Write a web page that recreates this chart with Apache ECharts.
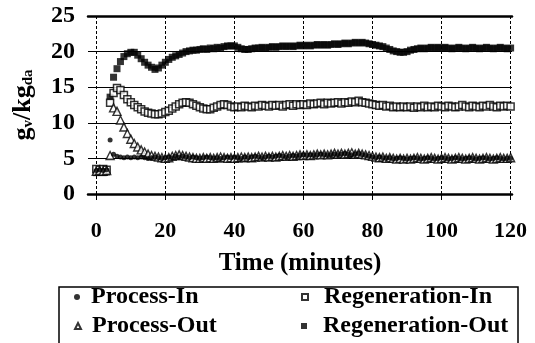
<!DOCTYPE html>
<html>
<head>
<meta charset="utf-8">
<script src="https://cdn.jsdelivr.net/npm/echarts@6/dist/echarts.min.js"></script>
<style>html,body{margin:0;padding:0;background:#fff}#c{width:535px;height:343px}</style>
</head>
<body>
<div id="c"></div>
<script>
var minutes = [0,1,2,3,4,5,6,7,8,9,10,11,12,13,14,15,16,17,18,19,20,21,22,23,24,25,26,27,28,29,30,31,32,33,34,35,36,37,38,39,40,41,42,43,44,45,46,47,48,49,50,51,52,53,54,55,56,57,58,59,60,61,62,63,64,65,66,67,68,69,70,71,72,73,74,75,76,77,78,79,80,81,82,83,84,85,86,87,88,89,90,91,92,93,94,95,96,97,98,99,100,101,102,103,104,105,106,107,108,109,110,111,112,113,114,115,116,117,118,119,120];

var processIn = [3.3,3.4,3.3,3.4,7.6,5.6,5.3,5.2,5.1,5.2,
5.1,5.2,5.1,5.2,5.1,5.0,5.1,5.2,5.1,5.0,
5.1,5.2,5.1,5.3,5.2,5.3,5.2,5.1,5.2,5.1,
5.0,5.1,5.2,5.1,5.0,5.1,5.0,5.1,5.2,5.1,
5.2,5.1,5.0,5.2,5.1,5.2,5.3,5.2,5.1,5.2,
5.3,5.2,5.3,5.4,5.3,5.2,5.3,5.4,5.3,5.4,
5.5,5.4,5.5,5.4,5.5,5.6,5.5,5.4,5.5,5.6,
5.5,5.6,5.7,5.6,5.5,5.6,5.7,5.5,5.4,5.3,
5.2,5.1,5.2,5.1,5.0,5.1,4.9,5.0,5.1,5.0,
4.9,5.0,5.1,5.0,4.9,5.0,5.1,5.0,4.9,5.0,
5.1,5.0,4.9,5.0,5.1,5.0,4.9,5.0,5.1,5.0,
4.9,5.0,5.1,5.0,4.9,5.0,5.1,5.0,4.9,5.0,5.0];

var processOut = [3.2,3.3,3.2,3.3,5.4,12.1,11.6,10.4,9.4,8.5,
7.7,7.1,6.6,6.2,5.9,5.6,5.4,5.3,5.2,5.1,
5.0,5.1,5.3,5.4,5.5,5.4,5.3,5.2,5.1,5.0,
5.0,5.1,5.0,5.1,5.0,5.1,5.2,5.1,5.0,5.1,
5.0,5.1,5.2,5.1,5.2,5.1,5.2,5.3,5.2,5.3,
5.2,5.3,5.2,5.3,5.4,5.3,5.4,5.3,5.4,5.5,
5.4,5.5,5.4,5.5,5.6,5.5,5.6,5.5,5.6,5.7,
5.6,5.7,5.6,5.7,5.8,5.6,5.7,5.6,5.5,5.4,
5.3,5.2,5.1,5.2,5.0,5.1,5.0,4.9,5.0,4.9,
5.0,4.9,5.0,5.1,5.0,4.9,5.0,5.1,5.0,4.9,
5.0,5.1,5.0,4.9,5.0,5.1,5.0,4.9,5.0,5.1,
5.0,4.9,5.0,5.1,5.0,4.9,5.0,5.1,5.0,5.0,5.1];

var regenIn = [3.5,3.4,3.5,3.4,12.8,14.2,14.9,14.6,13.9,13.3,
12.9,12.5,12.2,11.9,11.6,11.4,11.3,11.2,11.2,11.3,
11.5,11.7,12.0,12.3,12.6,12.8,12.9,12.8,12.6,12.4,
12.2,12.0,11.9,11.9,12.1,12.3,12.5,12.6,12.5,12.3,
12.2,12.3,12.2,12.4,12.3,12.2,12.4,12.3,12.5,12.4,
12.3,12.5,12.4,12.5,12.3,12.5,12.6,12.4,12.6,12.5,
12.6,12.5,12.7,12.6,12.7,12.8,12.6,12.8,12.7,12.8,
12.9,12.7,12.9,12.8,13.0,12.9,13.1,12.9,12.8,12.7,
12.6,12.5,12.4,12.5,12.3,12.4,12.2,12.3,12.2,12.3,
12.2,12.3,12.1,12.3,12.2,12.4,12.2,12.3,12.2,12.4,
12.3,12.2,12.4,12.3,12.2,12.3,12.5,12.3,12.2,12.4,
12.3,12.2,12.4,12.3,12.5,12.3,12.2,12.4,12.3,12.4,12.3];

var regenOut = [3.0,3.1,3.0,3.1,13.6,16.4,17.6,18.6,19.3,19.7,
19.9,19.9,19.5,19.0,18.5,18.1,17.8,17.5,17.7,18.1,
18.5,18.9,19.2,19.4,19.6,19.8,20.0,20.1,20.2,20.2,
20.3,20.4,20.3,20.5,20.4,20.6,20.5,20.7,20.8,20.8,
20.8,20.6,20.4,20.3,20.3,20.4,20.5,20.5,20.6,20.5,
20.6,20.7,20.6,20.7,20.8,20.7,20.8,20.7,20.8,20.9,
20.8,20.9,20.8,20.9,21.0,20.9,21.0,20.9,21.0,21.1,
21.0,21.1,21.2,21.1,21.2,21.3,21.2,21.3,21.2,21.1,
21.0,20.9,20.8,20.7,20.5,20.3,20.1,20.0,19.9,19.9,
20.0,20.2,20.3,20.4,20.5,20.4,20.5,20.6,20.5,20.6,
20.5,20.6,20.5,20.4,20.5,20.6,20.5,20.4,20.5,20.6,
20.5,20.4,20.5,20.6,20.5,20.4,20.5,20.6,20.5,20.4,20.5];

var xTicks = [0,20,40,60,80,100,120];

function pairs(vals){ return minutes.map(function(t,i){ return [t, vals[i]]; }); }

var FONT = '"Liberation Serif", "Times New Roman", serif';
function legendItem(name, icon, left, top, pad){
  return {
    orient:'horizontal', left:left, top:top, itemWidth:6, itemHeight:6, padding:0,
    textStyle:{color:'#000', fontFamily:FONT, fontWeight:'bold', fontSize:24, lineHeight:26, padding:[0,0,0,pad]},
    data:[{name:name, icon:icon}]
  };
}
var chart = echarts.init(document.getElementById('c'), null, {renderer:'canvas'});
chart.setOption({
  animation:false,
  backgroundColor:'#fff',
  grid:{left:88, right:23, top:16, bottom:149},
  xAxis:[{
    type:'value', min:-2.4, max:120.4,
    axisLine:{show:true, lineStyle:{color:'#000', width:2.5}},
    axisTick:{show:true, customValues:xTicks, length:6, lineStyle:{color:'#000', width:1}},
    axisLabel:{customValues:xTicks, margin:26, color:'#000', fontFamily:FONT, fontWeight:'bold', fontSize:22},
    splitLine:{show:true, lineStyle:{color:'#000', width:1, type:[3,2]}},
    name:'Time (minutes)', nameLocation:'middle', nameGap:57,
    nameTextStyle:{color:'#000', fontFamily:FONT, fontWeight:'bold', fontSize:25}
  },{
    type:'value', position:'top', min:-2.4, max:120.4,
    axisLine:{show:true, lineStyle:{color:'#000', width:2.5}},
    axisTick:{show:false}, axisLabel:{show:false}, splitLine:{show:false}
  }],
  yAxis:{
    type:'value', min:0, max:25, interval:5,
    axisLine:{show:false}, axisTick:{show:false},
    axisLabel:{margin:13, color:'#000', fontFamily:FONT, fontWeight:'bold', fontSize:24},
    splitLine:{show:true, lineStyle:{color:'#000', width:1}},
    name:'{g|g}{s|v}{g|/kg}{s|da}', nameLocation:'middle', nameRotate:90, nameGap:52,
    nameTextStyle:{rich:{
      g:{color:'#000', fontFamily:FONT, fontWeight:'bold', fontSize:26},
      s:{color:'#000', fontFamily:FONT, fontWeight:'bold', fontSize:15, verticalAlign:'bottom', padding:[6,0,0,0]}
    }}
  },
  legend:[
    legendItem('Process-In','circle',74,284,6),
    legendItem('Process-Out','triangle',74,313,6),
    legendItem('Regeneration-In','rect',301,284,11),
    legendItem('Regeneration-Out','rect',301,313,11)
  ],
  graphic:[{type:'rect', shape:{x:59, y:287, width:459, height:80}, style:{fill:'none', stroke:'#000', lineWidth:1.5}, silent:true}],
  series:[
    {name:'Regeneration-Out', type:'scatter', data:pairs(regenOut), symbol:'rect', symbolSize:7,
     itemStyle:{color:'#000'}},
    {name:'Regeneration-In', type:'scatter', data:pairs(regenIn), symbol:'rect', symbolSize:7,
     itemStyle:{color:'#fff', borderColor:'#000', borderWidth:1.5}},
    {name:'Process-Out', type:'scatter', data:pairs(processOut), symbol:'triangle', symbolSize:8,
     itemStyle:{color:'#fff', borderColor:'#000', borderWidth:1.4}},
    {name:'Process-In', type:'scatter', data:pairs(processIn), symbol:'circle', symbolSize:5,
     itemStyle:{color:'#000'}}
  ]
});
</script>
</body>
</html>
